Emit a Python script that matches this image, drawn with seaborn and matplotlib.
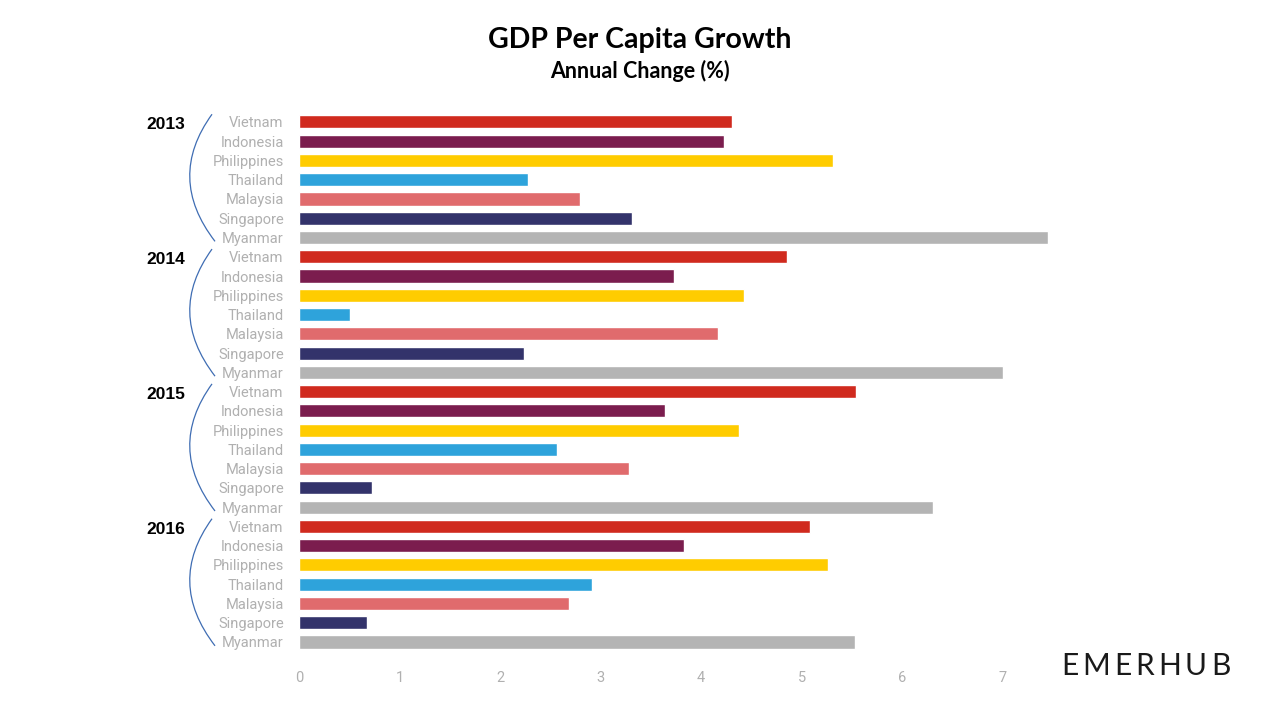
import numpy as np
import pandas as pd
import matplotlib
matplotlib.use("Agg")
import matplotlib.pyplot as plt
import matplotlib.transforms as mtransforms
from matplotlib.path import Path
from matplotlib.patches import PathPatch
import seaborn as sns

years = ["2013", "2014", "2015", "2016"]
countries = ["Vietnam", "Indonesia", "Philippines", "Thailand", "Malaysia", "Singapore", "Myanmar"]
growth_2013 = [4.31, 4.23, 5.31, 2.28, 2.80, 3.31, 7.45]
growth_2014 = [4.85, 3.73, 4.43, 0.51, 4.17, 2.24, 7.00]
growth_2015 = [5.54, 3.64, 4.38, 2.57, 3.28, 0.73, 6.31]
growth_2016 = [5.08, 3.83, 5.26, 2.91, 2.69, 0.68, 5.53]
colors = ["#D02A1E", "#7B1D4E", "#FFCC00", "#2EA3DB", "#E06B6D", "#33336B", "#B4B4B4"]

rows = []
for yr, vals in zip(years, [growth_2013, growth_2014, growth_2015, growth_2016]):
    for c, v in zip(countries, vals):
        rows.append({"row": yr + " " + c, "year": yr, "country": c, "growth": v})
df = pd.DataFrame(rows)

sns.set_style("white")
plt.rcParams["font.family"] = ["Roboto", "DejaVu Sans"]

fig = plt.figure(figsize=(12.8, 7.2), dpi=100)
ax = fig.add_axes([0.2336, 0.095, 0.589, 0.749])

sns.barplot(data=df, x="growth", y="row", hue="country", palette=colors,
            dodge=False, width=0.68, legend=False, ax=ax, saturation=1)

ax.set_xlim(0, 7.5)
ax.set_xticks(range(0, 8))
ax.set_yticks(range(len(df)))
ax.set_yticklabels(df["country"])
ax.set_xlabel("")
ax.set_ylabel("")
sns.despine(ax=ax, left=True, bottom=True)
ax.tick_params(axis="both", length=0, labelsize=10.5)
ax.tick_params(axis="x", pad=14)
ax.tick_params(axis="y", pad=11)
for lab in ax.get_xticklabels() + ax.get_yticklabels():
    lab.set_color("#B0B0B0")

# year labels and brackets
trans = mtransforms.blended_transform_factory(ax.transAxes, ax.transData)
ax_w = 0.589 * 1280
def px_to_ax(px):
    return (px - 299) / ax_w

for i, yr in enumerate(years):
    start = i * len(countries)
    ax.text(px_to_ax(166), start + 0.15, yr, transform=trans, ha="center", va="center",
            fontsize=12.5, fontweight="bold", family=["Liberation Sans", "DejaVu Sans"],
            color="black", clip_on=False)
    top, bot = start - 0.4, start + 6.2
    verts = [(px_to_ax(212), top), (px_to_ax(166), (top + bot) / 2), (px_to_ax(215), bot)]
    path = Path(verts, [Path.MOVETO, Path.CURVE3, Path.CURVE3])
    ax.add_patch(PathPatch(path, transform=trans, fill=False, edgecolor="#3F6DB3",
                           linewidth=0.9, clip_on=False))

fig.text(0.5, 0.944, "GDP Per Capita Growth", ha="center", va="center", color="black",
         fontsize=20.5, fontweight="bold", family=["Lato", "DejaVu Sans"])
fig.text(0.5, 0.902, "Annual Change (%)", ha="center", va="center", color="black",
         fontsize=15.5, fontweight="bold", family=["Lato", "DejaVu Sans"])

# logo, letter-spaced: place each letter after measuring the previous one
renderer = fig.canvas.get_renderer()
x_px = 1061
for ch in "EMERHUB":
    t = fig.text(x_px / 1280, 1 - 666 / 720, ch, ha="left", va="center",
                 fontsize=21.5, fontweight="normal", family=["Lato", "DejaVu Sans"], color="#1A1A1A")
    x_px += t.get_window_extent(renderer).width + 4.0

fig.savefig("out.png", dpi=100)
